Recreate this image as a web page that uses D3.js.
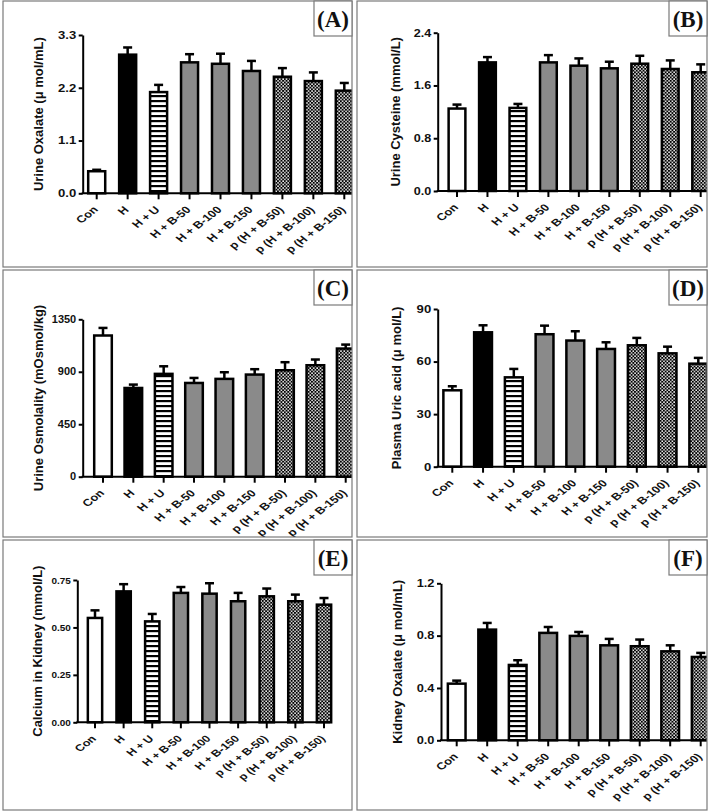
<!DOCTYPE html>
<html><head><meta charset="utf-8">
<script src="https://cdnjs.cloudflare.com/ajax/libs/d3/7.8.5/d3.min.js"></script>
<style>
html,body{margin:0;padding:0;background:#fff;}
svg{display:block;}
.tk text{font-family:"Liberation Sans",Arial,sans-serif;font-weight:bold;fill:#111;}
</style></head>
<body>
<svg id="c" width="709" height="812"></svg>
<script>
// ---- data ----
const categories = ["Con","H","H + U","H + B-50","H + B-100","H + B-150","p (H + B-50)","p (H + B-100)","p (H + B-150)"];
const panelLetters = ["(A)","(B)","(C)","(D)","(E)","(F)"];
const yTitles = ["Urine Oxalate (\u03bc mol/mL)","Urine Cysteine (mmol/L)","Urine Osmolality (mOsmol/kg)","Plasma Uric acid (\u03bc mol/L)","Calcium in Kidney (mmol/L)","Kidney Oxalate (\u03bc mol/mL)"];

const oxalateUrineMean = [0.46, 2.89, 2.11, 2.73, 2.70, 2.55, 2.43, 2.34, 2.14];
const oxalateUrineSem  = [0.03, 0.15, 0.15, 0.17, 0.21, 0.21, 0.18, 0.18, 0.16];
const cysteineMean = [1.25, 1.95, 1.26, 1.95, 1.90, 1.86, 1.93, 1.85, 1.80];
const cysteineSem  = [0.06, 0.08, 0.06, 0.11, 0.11, 0.10, 0.12, 0.13, 0.12];
const osmolalityMean = [1211, 761, 882, 804, 839, 876, 913, 956, 1099];
const osmolalitySem  = [65, 29, 65, 43, 57, 46, 69, 49, 34];
const uricMean = [43.6, 76.7, 51.0, 75.6, 72.0, 67.2, 69.3, 64.7, 58.8];
const uricSem  = [2.3, 4.0, 4.8, 4.9, 5.3, 3.8, 4.2, 3.8, 3.3];
const calciumMean = [0.550, 0.690, 0.532, 0.682, 0.678, 0.638, 0.664, 0.638, 0.620];
const calciumSem  = [0.040, 0.038, 0.039, 0.031, 0.055, 0.044, 0.041, 0.035, 0.035];
const kidneyOxMean = [0.433, 0.846, 0.576, 0.821, 0.798, 0.726, 0.719, 0.680, 0.637];
const kidneyOxSem  = [0.023, 0.051, 0.036, 0.045, 0.030, 0.049, 0.051, 0.046, 0.031];

const ticksA = [0, 1.1, 2.2, 3.3];
const ticksB = [0, 0.8, 1.6, 2.4];
const ticksC = [0, 450, 900, 1350];
const ticksD = [0, 30, 60, 90];
const ticksE = [0, 0.25, 0.50, 0.75];
const ticksF = [0, 0.4, 0.8, 1.2];

// ---- layout (pixels) ----
const layouts = [
  {px:3,py:1,pw:349,ph:266, ax:82.7, y0:193.3, yt:35.0, c0:96.7, c8:344.3, pad:0.45, xEnd:400, fmt:".1f", tf:10.5, ts:1.25, lf:10, ls:1.28, tx:40},
  {px:357,py:1,pw:350,ph:266, ax:437.7, y0:191.0, yt:32.7, c0:457.0, c8:700.7, pad:0.45, xEnd:760, fmt:".1f", tf:10.5, ts:1.2, lf:10, ls:1.28, tx:43},
  {px:3,py:270,pw:349,ph:267, ax:82.7, y0:476.7, yt:319.3, c0:103.0, c8:345.7, pad:0.42, xEnd:400, fmt:"d", tf:10, ts:1.1, lf:10, ls:1.28, tx:40},
  {px:357,py:270,pw:350,ph:267, ax:437.7, y0:466.7, yt:309.0, c0:452.3, c8:698.3, pad:0.42, xEnd:760, fmt:"d", tf:10.5, ts:1.25, lf:10, ls:1.28, tx:44},
  {px:3,py:540,pw:349,ph:270, ax:77.3, y0:722.3, yt:580.0, c0:95.0, c8:324.0, pad:0.50, xEnd:330, fmt:".2f", tf:9.5, ts:1.05, lf:9.6, ls:1.3, tx:39},
  {px:357,py:540,pw:350,ph:270, ax:441.0, y0:740.3, yt:583.3, c0:456.7, c8:700.7, pad:0.42, xEnd:760, fmt:".1f", tf:10.5, ts:1.22, lf:10, ls:1.28, tx:45}
];
const means = [oxalateUrineMean, cysteineMean, osmolalityMean, uricMean, calciumMean, kidneyOxMean];
const sems = [oxalateUrineSem, cysteineSem, osmolalitySem, uricSem, calciumSem, kidneyOxSem];
const ticks = [ticksA, ticksB, ticksC, ticksD, ticksE, ticksF];

const svg = d3.select("#c");
const defs = svg.append("defs");
// horizontal stripes
const ps = defs.append("pattern").attr("id","stripes").attr("patternUnits","userSpaceOnUse")
  .attr("width",6).attr("height",5);
ps.append("rect").attr("width",6).attr("height",5).attr("fill","#fff");
ps.append("rect").attr("y",0).attr("width",6).attr("height",2.2).attr("fill","#000");
// checker
const pc = defs.append("pattern").attr("id","checker").attr("patternUnits","userSpaceOnUse")
  .attr("width",3.4).attr("height",3.4);
pc.append("rect").attr("width",3.4).attr("height",3.4).attr("fill","#000");
pc.append("rect").attr("x",0.2).attr("y",0.2).attr("width",1.5).attr("height",1.5).attr("fill","#fff");
pc.append("rect").attr("x",1.9).attr("y",1.9).attr("width",1.5).attr("height",1.5).attr("fill","#fff");

function fillFor(i){
  if(i===0) return "#fff";
  if(i===1) return "#000";
  if(i===2) return "url(#stripes)";
  if(i<=5) return "#8a8a8a";
  return "url(#checker)";
}

layouts.forEach((L, k) => {
  const cid = "clip"+k;
  defs.append("clipPath").attr("id",cid).append("rect")
    .attr("x",L.px).attr("y",L.py).attr("width",L.pw).attr("height",L.ph);
  const g = svg.append("g").attr("clip-path",`url(#${cid})`);
  const tks = ticks[k];
  const y = d3.scaleLinear().domain([0, tks[tks.length-1]]).range([L.y0, L.yt]);
  const step = (L.c8 - L.c0)/8;
  const x = d3.scaleBand().domain(categories)
    .range([L.c0 - step/2, L.c8 + step/2]).paddingInner(L.pad).paddingOuter(L.pad/2);
  const bw = x.bandwidth();

  // bars
  g.selectAll("rect.bar").data(categories).join("rect")
    .attr("x", d => x(d)).attr("width", bw)
    .attr("y", (d,i) => y(means[k][i]))
    .attr("height", (d,i) => y(0) - y(means[k][i]))
    .attr("fill", (d,i) => fillFor(i))
    .attr("stroke","#000").attr("stroke-width",2.5);
  // error bars
  g.selectAll("line.eb").data(categories).join("line")
    .attr("x1", d => x(d)+bw/2).attr("x2", d => x(d)+bw/2)
    .attr("y1", (d,i) => y(means[k][i]))
    .attr("y2", (d,i) => y(means[k][i]+sems[k][i]))
    .attr("stroke","#000").attr("stroke-width",2.5);
  g.selectAll("line.cap").data(categories).join("line")
    .attr("x1", d => x(d)+bw/2-4.5).attr("x2", d => x(d)+bw/2+4.5)
    .attr("y1", (d,i) => y(means[k][i]+sems[k][i]))
    .attr("y2", (d,i) => y(means[k][i]+sems[k][i]))
    .attr("stroke","#000").attr("stroke-width",2.5);

  // y axis
  const ya = g.append("g").attr("class","tk").attr("transform",`translate(${L.ax},0)`)
    .call(d3.axisLeft(y).tickValues(tks).tickFormat(d3.format(L.fmt)).tickSize(4).tickPadding(2).tickSizeOuter(0));
  ya.select(".domain").attr("stroke","#000").attr("stroke-width",2);
  ya.selectAll(".tick line").attr("stroke","#000").attr("stroke-width",2);
  ya.selectAll(".tick text")
    .attr("font-size", L.tf)
    .attr("x", -6.5/L.ts)
    .attr("transform", `scale(${L.ts},1)`);

  // x axis line
  g.append("line").attr("x1",L.ax-1).attr("x2",L.xEnd).attr("y1",L.y0).attr("y2",L.y0)
    .attr("stroke","#000").attr("stroke-width",2);
  const xt = g.append("g").attr("class","tk");
  xt.selectAll("line").data(categories).join("line")
    .attr("x1", d => x(d)+bw/2).attr("x2", d => x(d)+bw/2)
    .attr("y1", L.y0).attr("y2", L.y0+6)
    .attr("stroke","#000").attr("stroke-width",2);
  xt.selectAll("text").data(categories).join("text")
    .attr("transform", d => `translate(${x(d)+bw/2+2},${L.y0+17}) scale(${L.ls},1) rotate(-45)`)
    .attr("text-anchor","end")
    .attr("font-size", L.lf)
    .text(d => d);

  // y title
  g.append("text")
    .attr("transform", `translate(${L.px + L.tx},${(L.y0+L.yt)/2}) rotate(-90)`)
    .attr("text-anchor","middle")
    .attr("font-family","Liberation Sans, Arial, sans-serif").attr("font-weight","bold")
    .attr("font-size",13).attr("fill","#111")
    .text(yTitles[k]);

  // panel border
  svg.append("rect").attr("x",L.px).attr("y",L.py).attr("width",L.pw).attr("height",L.ph)
    .attr("fill","none").attr("stroke","#7a7a7a").attr("stroke-width",1.2);
  // letter box
  svg.append("rect").attr("x",L.px+L.pw-38).attr("y",L.py).attr("width",38).attr("height",35)
    .attr("fill","#fff").attr("stroke","#7a7a7a").attr("stroke-width",1.2);
  svg.append("text").attr("x",L.px+L.pw-19).attr("y",L.py+26)
    .attr("text-anchor","middle")
    .attr("font-family","Liberation Serif, Times New Roman, serif").attr("font-weight","bold")
    .attr("font-size",23).attr("fill","#111")
    .text(panelLetters[k]);
});
</script>
</body></html>
